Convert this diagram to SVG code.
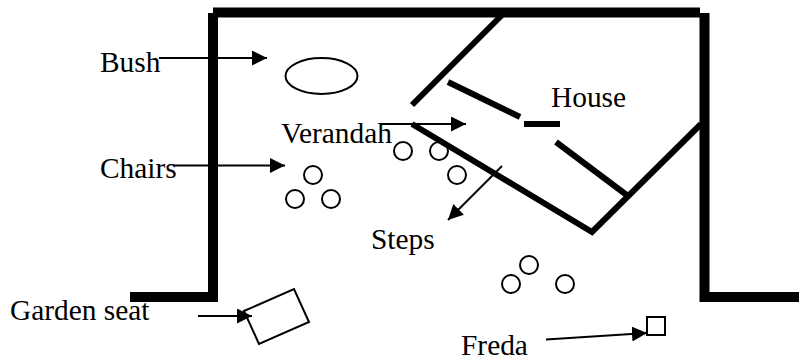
<svg xmlns="http://www.w3.org/2000/svg" width="799" height="358" viewBox="0 0 799 358">
<defs><marker id="a" markerWidth="15" markerHeight="15" refX="15" refY="7.5" orient="auto" markerUnits="userSpaceOnUse"><path d="M0 0L15 7.500L0 15Z" fill="#000"/></marker></defs>
<style>
.w{fill:none;stroke:#000;stroke-width:10}
.m{fill:none;stroke:#000;stroke-width:6}
.c{fill:none;stroke:#000;stroke-width:2}
.n{fill:none;stroke:#000;stroke-width:2;marker-end:url(#a)}
text{font-family:"Liberation Serif",serif;font-size:29.400px;fill:#000}
</style>
<rect width="799" height="358" fill="#fff"/>
<g id="walls">
<path class="w" d="M213 13V297H130"/>
<path class="w" d="M213 12.500H700"/>
<path class="w" d="M704.500 13V297H799"/>
<path class="m" d="M502 15L412 105"/>
<path class="m" d="M448 82L520 117"/>
<path class="m" d="M524 124H560"/>
<path class="m" d="M556 142L628 196"/>
<path class="m" d="M412 124L592 232L701 124"/>
</g>
<g id="bush"><ellipse class="c" cx="321.500" cy="76" rx="36" ry="18"/><text x="100" y="72">Bush</text></g>
<g id="verandah"><text x="281" y="143">Verandah</text></g>
<g id="house"><text x="551" y="107">House</text></g>
<g id="chairs"><text x="100" y="178">Chairs</text>
<circle class="c" cx="313" cy="175" r="9"/><circle class="c" cx="295" cy="199" r="9"/><circle class="c" cx="331" cy="199" r="9"/></g>
<g id="verandah-chairs"><circle class="c" cx="403" cy="151" r="9"/><circle class="c" cx="439" cy="151" r="9"/><circle class="c" cx="457" cy="175" r="9"/></g>
<g id="steps"><text x="371" y="249">Steps</text></g>
<g id="lawn-chairs"><circle class="c" cx="529" cy="265" r="9"/><circle class="c" cx="511" cy="284" r="9"/><circle class="c" cx="565" cy="284" r="9"/></g>
<g id="garden-seat"><text x="10" y="320">Garden seat</text><path class="c" d="M244 311L294 289L309 322L259 344Z"/></g>
<g id="freda"><text x="461" y="355">Freda</text><rect class="c" x="647" y="317" width="18" height="18"/></g>
<g id="connectors">
<path class="n" d="M159 58H267"/>
<path class="n" d="M380 124H466"/>
<path class="n" d="M173 165.500H285"/>
<path class="n" d="M502 166L448 220"/>
<path class="n" d="M198 316H252"/>
<path class="n" d="M546 339.500L647 333"/>
</g>
</svg>
